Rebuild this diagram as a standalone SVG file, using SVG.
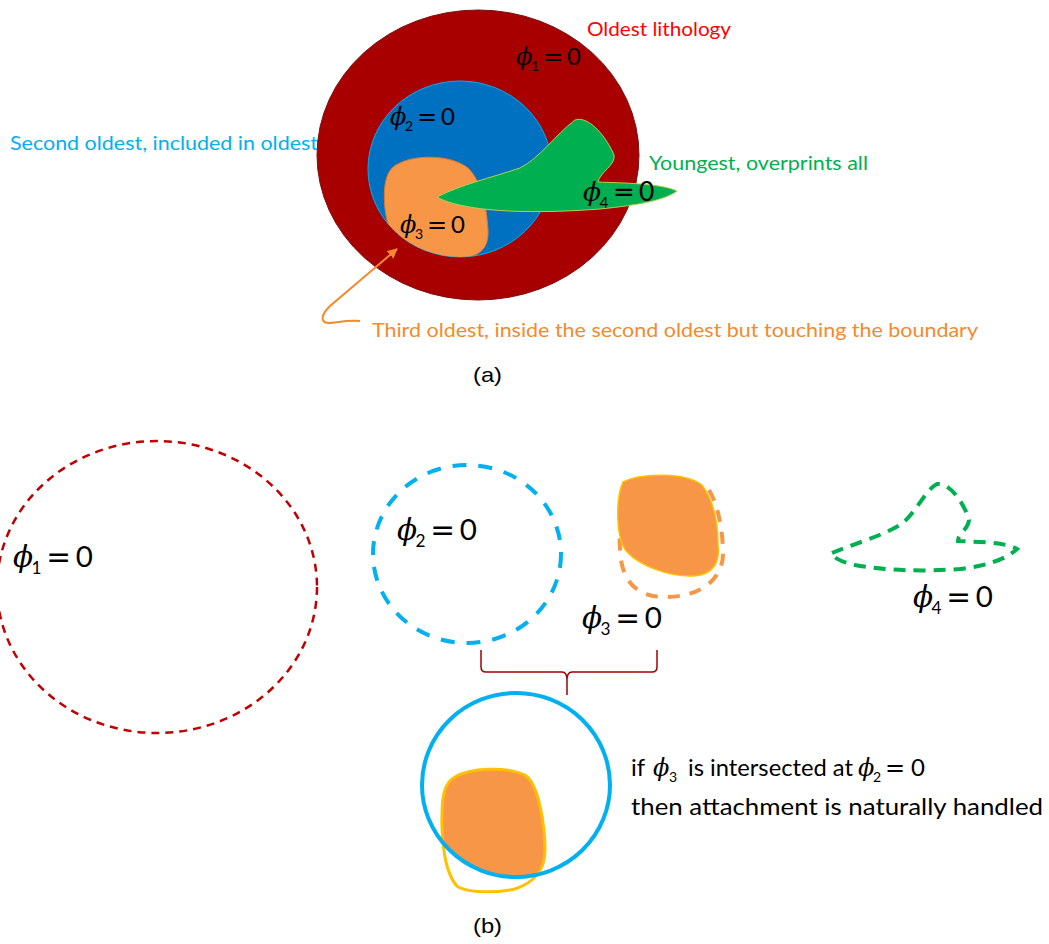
<svg xmlns="http://www.w3.org/2000/svg" width="1049" height="944" viewBox="0 0 1049 944">
<style>
.lab{font-family:Lato,"Open Sans",sans-serif;font-size:20px}
.cap{font-family:"Liberation Sans",Arial,sans-serif;font-size:21px;fill:#000}
.phi{font-family:"DejaVu Serif",serif;font-style:italic;font-size:24px;fill:#000}
.sub{font-family:Lato,sans-serif;font-size:14px;fill:#000}
.eqs{font-family:"DejaVu Sans",sans-serif;font-size:24px;fill:#000}
.eq{font-family:Lato,sans-serif;font-size:24px;fill:#000}
.txt{font-family:Lato,"Open Sans",sans-serif;font-size:24px;fill:#000}
</style>
<defs>
<clipPath id="clipA"><ellipse cx="460" cy="169" rx="92" ry="88"/></clipPath>
<clipPath id="clipB"><ellipse cx="516" cy="785" rx="94" ry="92"/></clipPath>
<marker id="arr" viewBox="0 0 10 10" refX="9" refY="5" markerWidth="5" markerHeight="5" orient="auto" markerUnits="strokeWidth">
<path d="M0,0 L10,5 L0,10 Z" fill="#f4892d"/>
</marker>
</defs>

<g id="phi1-region">
<ellipse cx="478" cy="155" rx="161" ry="145" fill="#a80000" stroke="#7a1010" stroke-width="1"/>
</g>
<g id="phi2-region">
<ellipse cx="460" cy="169" rx="92" ry="88" fill="#0070c0" stroke="#00b0f0" stroke-width="1"/>
</g>
<g id="phi3-region">
<path clip-path="url(#clipA)" d="M400,163 C415,155 450,154 468,168 C480,180 486,200 488,230 C489,248 480,257 460,258 C430,258 405,250 395,240 C385,225 383,200 385,185 C387,172 392,166 400,163 Z" fill="#f79646" stroke="#e07a2a" stroke-width="1"/>
</g>
<g id="phi4-region">
<path d="M437,197 C460,185 490,178 520,168 C540,158 555,135 575,120 C590,115 608,140 614,155 C616,165 600,172 598,182 C620,183 660,183 677,191 C665,200 640,205 600,209 C560,212 520,213 483,209 C460,206 445,202 437,197 Z" fill="#00b050" stroke="#b5d050" stroke-width="1"/>
</g>

<g id="math-a">
<g transform="translate(516,65)"><text class="phi" x="0" y="0">ϕ</text><text class="sub" x="15" y="6">1</text><text class="eqs" x="27" y="0">=</text><text class="eq" x="51" y="0">0</text></g>
<g transform="translate(390,125)"><text class="phi" x="0" y="0">ϕ</text><text class="sub" x="15" y="6">2</text><text class="eqs" x="27" y="0">=</text><text class="eq" x="51" y="0">0</text></g>
<g transform="translate(400,233)"><text class="phi" x="0" y="0">ϕ</text><text class="sub" x="15" y="6">3</text><text class="eqs" x="27" y="0">=</text><text class="eq" x="51" y="0">0</text></g>
<g transform="translate(583,201) scale(1.1)"><text class="phi" x="0" y="0">ϕ</text><text class="sub" x="15" y="6">4</text><text class="eqs" x="27" y="0">=</text><text class="eq" x="51" y="0">0</text></g>
</g>

<g id="labels-a">
<text class="lab" x="587" y="36" fill="#ff0000" textLength="144" lengthAdjust="spacingAndGlyphs">Oldest lithology</text>
<text class="lab" x="10" y="150" fill="#00b0f0" textLength="308" lengthAdjust="spacingAndGlyphs">Second oldest, included in oldest</text>
<text class="lab" x="649" y="170" fill="#00b050" textLength="219" lengthAdjust="spacingAndGlyphs">Youngest, overprints all</text>
<text class="lab" x="372" y="337" fill="#f4892d" textLength="606" lengthAdjust="spacingAndGlyphs">Third oldest, inside the second oldest but touching the boundary</text>
<text class="cap" x="473" y="382" textLength="29" lengthAdjust="spacingAndGlyphs">(a)</text>
</g>

<g id="b-phi1">
<ellipse cx="157" cy="587" rx="160" ry="146" fill="none" stroke="#c00000" stroke-width="2.5" stroke-dasharray="8 6"/>
<g transform="translate(13,567) scale(1.23)"><text class="phi" x="0" y="0">ϕ</text><text class="sub" x="15" y="6">1</text><text class="eqs" x="27" y="0">=</text><text class="eq" x="51" y="0">0</text></g>
</g>
<g id="b-phi2">
<ellipse cx="467" cy="554" rx="94" ry="89" fill="none" stroke="#00b0f0" stroke-width="4" stroke-dasharray="14 12"/>
<g transform="translate(397,540) scale(1.23)"><text class="phi" x="0" y="0">ϕ</text><text class="sub" x="15" y="6">2</text><text class="eqs" x="27" y="0">=</text><text class="eq" x="51" y="0">0</text></g>
</g>
<g id="b-phi3">
<path d="M709,490 C718,505 723,530 723,555 C722,580 700,597 665,597 C640,597 625,585 621,560 C620,550 619,540 620,530" fill="none" stroke="#f79646" stroke-width="4" stroke-dasharray="12 10"/>
<path d="M623,482 C640,473 685,472 702,485 C713,500 718,520 718,545 C720,560 715,575 693,576 C670,577 640,566 627,552 C616,540 615,500 623,482 Z" fill="#f79646" stroke="#ffc000" stroke-width="1.5"/>
<g transform="translate(582,628) scale(1.23)"><text class="phi" x="0" y="0">ϕ</text><text class="sub" x="15" y="6">3</text><text class="eqs" x="27" y="0">=</text><text class="eq" x="51" y="0">0</text></g>
</g>
<g id="b-phi4">
<path d="M832,553 C850,545 880,537 900,525 C915,515 925,490 937,484 C950,482 965,505 969,520 C968,530 958,533 958,541 C980,542 1005,542 1017,549 C1005,560 985,566 960,569 C920,572 880,570 855,565 C842,562 833,558 832,553 Z" fill="none" stroke="#00b050" stroke-width="4" stroke-dasharray="12 8"/>
<g transform="translate(913,607) scale(1.23)"><text class="phi" x="0" y="0">ϕ</text><text class="sub" x="15" y="6">4</text><text class="eqs" x="27" y="0">=</text><text class="eq" x="51" y="0">0</text></g>
</g>

<g id="b-combined">
<path clip-path="url(#clipB)" d="M455,777 C470,768 505,766 525,775 C540,785 545,830 545,850 C545,870 535,882 515,889 C495,893 470,893 458,887 C445,875 441,840 442,815 C442,795 445,782 455,777 Z" fill="#f79646"/>
<path d="M455,777 C470,768 505,766 525,775 C540,785 545,830 545,850 C545,870 535,882 515,889 C495,893 470,893 458,887 C445,875 441,840 442,815 C442,795 445,782 455,777 Z" fill="none" stroke="#ffc000" stroke-width="3"/>
<ellipse cx="516" cy="785" rx="94" ry="92" fill="none" stroke="#00b0f0" stroke-width="4"/>
</g>

<g id="b-text">
<text class="txt" x="631" y="776">if</text>
<text class="phi" x="653" y="776" font-size="22">ϕ</text>
<text class="sub" x="669" y="782" font-size="13">3</text>
<text class="txt" x="688" y="776" textLength="165" lengthAdjust="spacingAndGlyphs">is intersected at</text>
<text class="phi" x="858" y="776" font-size="22">ϕ</text>
<text class="sub" x="873" y="782" font-size="13">2</text>
<text class="eqs" x="885" y="776" font-size="22">=</text>
<text class="txt" x="911" y="776">0</text>
<text class="txt" x="631" y="815" textLength="412" lengthAdjust="spacingAndGlyphs">then attachment is naturally handled</text>
<text class="cap" x="473" y="933" textLength="29" lengthAdjust="spacingAndGlyphs">(b)</text>
</g>

<g id="connectors">
<path d="M360,321 C345,320 335,323 328,323 C320,322 321,315 330,306 L397,249" fill="none" stroke="#f4892d" stroke-width="2" marker-end="url(#arr)"/>
<path d="M481,650 L481,667 Q481,672 486,672 L562,672 Q567,672 567,680 L567,695 M657,650 L657,667 Q657,672 652,672 L572,672 Q567,672 567,680" fill="none" stroke="#a00000" stroke-width="1.5"/>
</g>
</svg>
